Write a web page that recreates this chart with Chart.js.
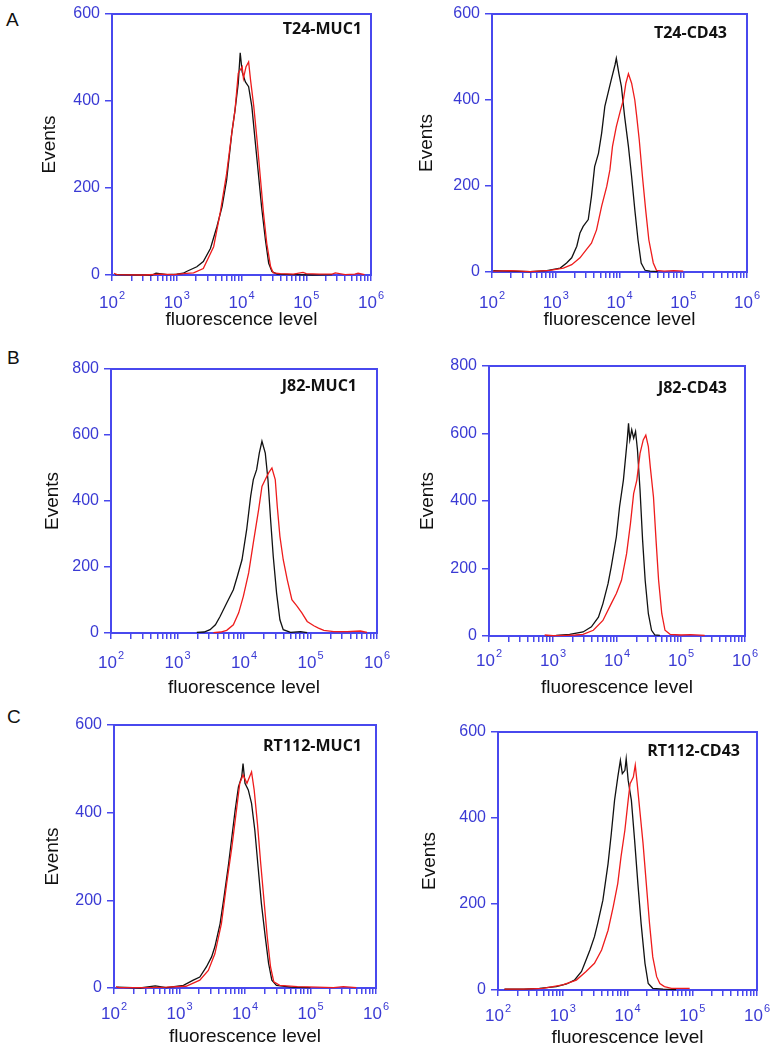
<!DOCTYPE html>
<html>
<head>
<meta charset="utf-8">
<script src="https://cdn.jsdelivr.net/npm/chart.js@4.4.1/dist/chart.umd.min.js"></script>
<style>
html, body { margin: 0; padding: 0; background: #fff; }
body { position: relative; width: 780px; height: 1049px; overflow: hidden; }
canvas { position: absolute; }
.letter { position: absolute; font: 19px "Liberation Sans", Arial, sans-serif; color: #111; }
.tag { position: absolute; width: 200px; text-align: right; font: 700 16px "Open Sans", sans-serif; color: #111; line-height: 20px; }
</style>
</head>
<body>
<div class="letter" style="left:6px;top:9px">A</div>
<div class="letter" style="left:7px;top:347px">B</div>
<div class="letter" style="left:7px;top:706px">C</div>
<script>
// x values are log10(fluorescence), y values are event counts
const xDecades = [100, 1000, 10000, 100000, 1000000];
const xTickBase = '10';
const xTickExponents = ['2', '3', '4', '5', '6'];
const yStep = 200;

const t24MucBlackX = [2.05, 2.4, 2.62, 2.68, 2.85, 3.0, 3.1, 3.15, 3.31, 3.41, 3.52, 3.62, 3.70, 3.77, 3.85, 3.90, 3.95, 3.98, 4.01, 4.06, 4.11, 4.16, 4.21, 4.26, 4.31, 4.37, 4.42, 4.47, 4.55, 4.8, 5.1, 5.4];
const t24MucBlackY = [1, 0, 0, 4, 1, 2, 4, 8, 19, 31, 61, 111, 157, 218, 326, 379, 441, 511, 467, 444, 433, 387, 310, 234, 157, 80, 27, 8, 2, 1, 0, 1];
const t24MucRedX = [2.03, 2.08, 2.5, 2.75, 2.95, 3.1, 3.26, 3.41, 3.57, 3.67, 3.77, 3.85, 3.90, 3.95, 4.01, 4.03, 4.07, 4.11, 4.14, 4.19, 4.24, 4.29, 4.34, 4.39, 4.45, 4.49, 4.6, 4.8, 4.95, 5.0, 5.2, 5.4, 5.45, 5.6, 5.75, 5.8, 5.9];
const t24MucRedY = [4, 1, 0, 2, 1, 3, 5, 15, 65, 142, 233, 326, 379, 464, 479, 452, 479, 490, 448, 387, 310, 226, 142, 73, 19, 5, 3, 2, 6, 3, 2, 2, 5, 1, 2, 4, 1];

const t24CdBlackX = [2.02, 2.3, 2.6, 2.86, 3.07, 3.17, 3.25, 3.33, 3.38, 3.43, 3.51, 3.56, 3.61, 3.67, 3.72, 3.77, 3.82, 3.87, 3.93, 3.95, 3.99, 4.03, 4.08, 4.14, 4.19, 4.24, 4.29, 4.34, 4.40, 4.48, 4.6];
const t24CdBlackY = [3, 2, 1, 3, 9, 21, 33, 60, 91, 106, 122, 176, 245, 276, 323, 385, 416, 447, 482, 497, 462, 431, 362, 292, 222, 145, 75, 21, 4, 2, 1];
const t24CdRedX = [2.02, 2.3, 2.6, 2.91, 3.12, 3.25, 3.38, 3.48, 3.56, 3.64, 3.72, 3.80, 3.85, 3.89, 3.95, 4.01, 4.06, 4.10, 4.14, 4.19, 4.24, 4.27, 4.31, 4.36, 4.41, 4.46, 4.53, 4.58, 4.7, 4.85, 5.0];
const t24CdRedY = [2, 3, 1, 4, 9, 17, 33, 52, 67, 98, 153, 199, 238, 292, 338, 373, 400, 439, 461, 439, 400, 362, 307, 222, 145, 75, 21, 4, 2, 3, 2];

const j82MucBlackX = [3.29, 3.40, 3.49, 3.57, 3.64, 3.74, 3.84, 3.90, 3.97, 4.04, 4.10, 4.14, 4.19, 4.23, 4.27, 4.32, 4.36, 4.40, 4.44, 4.49, 4.54, 4.59, 4.70, 4.85, 4.95];
const j82MucBlackY = [2, 3, 10, 25, 50, 91, 131, 172, 222, 313, 414, 465, 495, 545, 581, 545, 465, 343, 232, 121, 40, 10, 2, 4, 1];
const j82MucRedX = [3.54, 3.65, 3.74, 3.84, 3.92, 3.99, 4.07, 4.14, 4.22, 4.27, 4.32, 4.37, 4.42, 4.47, 4.50, 4.54, 4.59, 4.65, 4.72, 4.80, 4.87, 4.95, 5.05, 5.12, 5.20, 5.35, 5.55, 5.75, 5.85];
const j82MucRedY = [1, 3, 8, 25, 61, 111, 182, 273, 374, 444, 465, 485, 500, 465, 384, 293, 222, 162, 101, 81, 61, 35, 22, 15, 8, 4, 4, 6, 2];

const j82CdBlackX = [2.90, 3.05, 3.26, 3.47, 3.60, 3.71, 3.78, 3.86, 3.91, 3.99, 4.04, 4.10, 4.14, 4.16, 4.18, 4.20, 4.23, 4.26, 4.29, 4.32, 4.36, 4.40, 4.44, 4.49, 4.54, 4.59, 4.67];
const j82CdBlackY = [1, 2, 5, 12, 27, 56, 96, 155, 205, 294, 383, 462, 541, 581, 630, 581, 611, 586, 606, 551, 432, 284, 165, 66, 17, 3, 2];
const j82CdRedX = [2.87, 3.0, 3.2, 3.35, 3.47, 3.63, 3.78, 3.91, 3.99, 4.07, 4.15, 4.21, 4.26, 4.31, 4.36, 4.41, 4.45, 4.49, 4.52, 4.57, 4.61, 4.65, 4.70, 4.75, 4.83, 5.0, 5.15, 5.37];
const j82CdRedY = [3, 1, 2, 3, 5, 17, 46, 96, 126, 165, 244, 333, 422, 462, 541, 581, 595, 561, 501, 412, 284, 165, 66, 17, 5, 3, 4, 2];

const rt112MucBlackX = [2.05, 2.4, 2.63, 2.8, 3.06, 3.21, 3.31, 3.41, 3.49, 3.54, 3.62, 3.68, 3.75, 3.80, 3.85, 3.90, 3.95, 3.97, 4.00, 4.05, 4.10, 4.15, 4.20, 4.25, 4.31, 4.36, 4.41, 4.48, 4.7, 5.0];
const rt112MucBlackY = [2, 0, 5, 1, 6, 18, 25, 48, 71, 94, 147, 208, 284, 345, 406, 459, 482, 512, 467, 452, 421, 360, 276, 193, 116, 56, 18, 6, 2, 1];
const rt112MucRedX = [2.03, 2.08, 2.5, 2.8, 3.1, 3.31, 3.44, 3.54, 3.64, 3.72, 3.80, 3.87, 3.92, 3.97, 4.03, 4.07, 4.10, 4.14, 4.19, 4.24, 4.29, 4.34, 4.39, 4.44, 4.53, 4.8, 5.1, 5.35, 5.5, 5.7];
const rt112MucRedY = [3, 1, 1, 2, 4, 18, 40, 78, 147, 238, 322, 406, 467, 486, 467, 482, 493, 452, 375, 284, 200, 116, 48, 14, 6, 3, 2, 1, 3, 1];

const rt112CdBlackX = [2.10, 2.4, 2.64, 2.90, 3.06, 3.18, 3.29, 3.36, 3.42, 3.49, 3.54, 3.62, 3.70, 3.75, 3.80, 3.85, 3.89, 3.92, 3.96, 3.98, 4.01, 4.06, 4.11, 4.16, 4.21, 4.27, 4.32, 4.39, 4.55, 4.75];
const rt112CdBlackY = [2, 2, 4, 8, 14, 23, 43, 70, 93, 124, 155, 209, 294, 364, 441, 495, 534, 503, 511, 538, 488, 441, 348, 248, 155, 62, 15, 4, 2, 1];
const rt112CdRedX = [2.10, 2.4, 2.69, 3.0, 3.21, 3.36, 3.49, 3.60, 3.70, 3.78, 3.85, 3.90, 3.96, 4.01, 4.04, 4.09, 4.12, 4.15, 4.19, 4.24, 4.29, 4.34, 4.39, 4.45, 4.50, 4.57, 4.68, 4.96];
const rt112CdRedY = [2, 2, 4, 12, 23, 43, 62, 93, 139, 194, 248, 310, 372, 441, 480, 495, 523, 480, 418, 341, 248, 155, 77, 31, 15, 8, 4, 4];

const AXIS = '#4848ee';
const LABEL = '#3a3ad4';
const RED = '#ee1c1c';
const BLACK = '#111111';
const FONT = '"Liberation Sans", Arial, sans-serif';

// area = chart area [left, top, right, bottom] in page pixels
const panels = [
    { name: 'T24-MUC1', yMax: 600, black: [t24MucBlackX, t24MucBlackY], red: [t24MucRedX, t24MucRedY],
      area: [112, 14, 371, 275], eventsX: 50, tickY: 302, titleY: 320, tag: [362, 28] },
    { name: 'T24-CD43', yMax: 600, black: [t24CdBlackX, t24CdBlackY], red: [t24CdRedX, t24CdRedY],
      area: [492, 14, 747, 272], eventsX: 427, tickY: 302, titleY: 320, tag: [727, 32] },
    { name: 'J82-MUC1', yMax: 800, black: [j82MucBlackX, j82MucBlackY], red: [j82MucRedX, j82MucRedY],
      area: [111, 369, 377, 633], eventsX: 53, tickY: 662, titleY: 688, tag: [357, 385] },
    { name: 'J82-CD43', yMax: 800, black: [j82CdBlackX, j82CdBlackY], red: [j82CdRedX, j82CdRedY],
      area: [489, 366, 745, 636], eventsX: 428, tickY: 660, titleY: 688, tag: [727, 387] },
    { name: 'RT112-MUC1', yMax: 600, black: [rt112MucBlackX, rt112MucBlackY], red: [rt112MucRedX, rt112MucRedY],
      area: [114, 725, 376, 988], eventsX: 53, tickY: 1013, titleY: 1037, tag: [362, 745] },
    { name: 'RT112-CD43', yMax: 600, black: [rt112CdBlackX, rt112CdBlackY], red: [rt112CdRedX, rt112CdRedY],
      area: [498, 732, 757, 990], eventsX: 430, tickY: 1015, titleY: 1038, tag: [740, 750] }
];

const xTickValues = [];
xDecades.slice(0, -1).forEach(d => {
    for (let k = 1; k < 10; k++) xTickValues.push(d * k);
});
xTickValues.push(xDecades[xDecades.length - 1]);

function toPoints([xs, ys]) {
    return xs.map((e, i) => ({ x: Math.pow(10, e), y: ys[i] }));
}

const boxPlugin = {
    id: 'box',
    beforeDatasetsDraw(chart) {
        const { ctx, chartArea: a } = chart;
        ctx.save();
        ctx.strokeStyle = AXIS;
        ctx.lineWidth = 2;
        ctx.strokeRect(a.left, a.top, a.right - a.left, a.bottom - a.top);
        ctx.restore();
    }
};

// decade labels written as 10 with a raised exponent
const powerLabels = {
    id: 'powerLabels',
    afterDraw(chart, args, opts) {
        const { ctx } = chart;
        const s = chart.scales.x;
        const y = opts.y;
        ctx.save();
        ctx.fillStyle = LABEL;
        ctx.textBaseline = 'middle';
        ctx.textAlign = 'left';
        xDecades.forEach((v, i) => {
            const px = s.getPixelForValue(v);
            ctx.font = `17px ${FONT}`;
            const w1 = ctx.measureText(xTickBase).width;
            ctx.font = `11px ${FONT}`;
            const w2 = ctx.measureText(xTickExponents[i]).width;
            const x0 = px - (w1 + w2 + 1) / 2;
            ctx.font = `17px ${FONT}`;
            ctx.fillText(xTickBase, x0, y);
            ctx.font = `11px ${FONT}`;
            ctx.fillText(xTickExponents[i], x0 + w1 + 1, y - 7);
        });
        ctx.restore();
    }
};

const Y_W = 110, X_H = 70, PAD_T = 20, PAD_R = 20;
const TICK_LEN = 6, TICK_FONT = 16, TITLE_FONT = 19;

function makePanel(p) {
    const [l, t, r, b] = p.area;
    const canvas = document.createElement('canvas');
    const left = l - Y_W, top = t - PAD_T;
    const w = r - l + Y_W + PAD_R, h = b - t + PAD_T + X_H;
    canvas.width = w;
    canvas.height = h;
    canvas.style.left = left + 'px';
    canvas.style.top = top + 'px';
    document.body.appendChild(canvas);

    const tag = document.createElement('div');
    tag.className = 'tag';
    tag.textContent = p.name;
    tag.style.left = (p.tag[0] - 200) + 'px';
    tag.style.top = (p.tag[1] - 10) + 'px';
    document.body.appendChild(tag);

    const titleLh = TITLE_FONT * 1.2;

    new Chart(canvas, {
        type: 'line',
        data: {
            datasets: [
                { data: toPoints(p.red), borderColor: RED, borderWidth: 1.3, pointRadius: 0, tension: 0, clip: 4 },
                { data: toPoints(p.black), borderColor: BLACK, borderWidth: 1.3, pointRadius: 0, tension: 0, clip: 4 }
            ]
        },
        options: {
            responsive: false,
            animation: false,
            events: [],
            layout: { padding: { left: 0, top: PAD_T, right: PAD_R, bottom: 0 } },
            plugins: {
                legend: { display: false },
                tooltip: { enabled: false },
                powerLabels: { y: p.tickY - top + 1 }
            },
            scales: {
                x: {
                    type: 'logarithmic',
                    min: xDecades[0],
                    max: xDecades[xDecades.length - 1],
                    afterBuildTicks: s => { s.ticks = xTickValues.map(v => ({ value: v })); },
                    afterFit: s => { s.height = X_H; s.paddingLeft = 0; s.paddingRight = 0; },
                    ticks: {
                        autoSkip: false,
                        maxRotation: 0,
                        callback: () => ''
                    },
                    grid: { drawOnChartArea: false, color: AXIS, lineWidth: 1.5, tickLength: TICK_LEN },
                    border: { color: AXIS, width: 2 },
                    title: {
                        display: true,
                        text: 'fluorescence level',
                        color: '#111',
                        font: { family: FONT, size: TITLE_FONT, lineHeight: 1.2 },
                        padding: { top: 0, bottom: (b + X_H) - p.titleY - titleLh / 2 }
                    }
                },
                y: {
                    min: 0,
                    max: p.yMax,
                    afterFit: s => { s.width = Y_W; s.paddingTop = 0; s.paddingBottom = 0; },
                    ticks: {
                        stepSize: yStep,
                        color: LABEL,
                        padding: 5,
                        font: { family: FONT, size: TICK_FONT }
                    },
                    grid: { drawOnChartArea: false, color: AXIS, lineWidth: 1.5, tickLength: 7 },
                    border: { color: AXIS, width: 2 },
                    title: {
                        display: true,
                        text: 'Events',
                        color: '#111',
                        font: { family: FONT, size: TITLE_FONT, lineHeight: 1.2 },
                        padding: { top: p.eventsX - left - titleLh / 2, bottom: 0 }
                    }
                }
            }
        },
        plugins: [boxPlugin, powerLabels]
    });
}

panels.forEach(makePanel);
</script>
</body>
</html>
